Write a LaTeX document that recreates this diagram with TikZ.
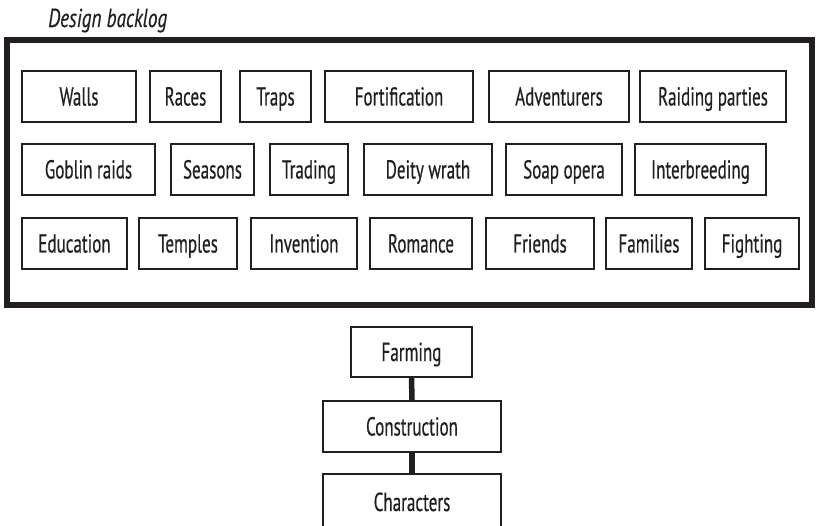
\documentclass[tikz,border=0pt]{standalone}
\usepackage{fontspec}
\setmainfont{PT Sans}[FakeStretch=0.655, FakeBold=0.5]
\newfontfamily\titlefont{PT Sans}[FakeStretch=0.74, FakeBold=0.4]
\definecolor{ink}{HTML}{231F20}
\begin{document}
\begin{tikzpicture}[x=1pt,y=-1pt,
  bx/.style={draw=ink, line width=2.2pt, rectangle, inner sep=0pt, text=ink,
    font=\fontsize{26}{26}\selectfont, text height=18pt, text depth=0pt, minimum height=51pt},
  link/.style={draw=ink, line width=5.5pt}]
\useasboundingbox (0,0) rectangle (816,526);
\clip (0,0) rectangle (816,526);
\node[anchor=base west, inner sep=0pt, text=ink, font=\titlefont\fontsize{26}{26}\selectfont\itshape] (title) at (48,27) {Design backlog};
\draw[ink, line width=6pt] (7,40) rectangle (812,305);
% row 1
\node[bx, minimum width=114pt] (walls) at (79,96.5) {Walls};
\node[bx, minimum width=71pt] (races) at (185.5,96.5) {Races};
\node[bx, minimum width=71pt] (traps) at (275.5,96.5) {Traps};
\node[bx, minimum width=148pt] (fort) at (399,96.5) {Fortification};
\node[bx, minimum width=140pt] (adv) at (559,96.5) {Adventurers};
\node[bx, minimum width=146pt] (raid) at (713,96.5) {Raiding parties};
% row 2
\node[bx, minimum width=133pt] (goblin) at (88.5,169.5) {Goblin raids};
\node[bx, minimum width=83pt] (seasons) at (212.5,169.5) {Seasons};
\node[bx, minimum width=78pt] (trading) at (309,169.5) {Trading};
\node[bx, minimum width=128pt] (deity) at (428,169.5) {Deity wrath};
\node[bx, minimum width=116pt] (soap) at (564,169.5) {Soap opera};
\node[bx, minimum width=131pt] (inter) at (700.5,169.5) {Interbreeding};
% row 3
\node[bx, minimum width=105pt] (edu) at (74.5,243.5) {Education};
\node[bx, minimum width=98pt] (temples) at (188,243.5) {Temples};
\node[bx, minimum width=106pt] (invention) at (304,243.5) {Invention};
\node[bx, minimum width=102pt] (romance) at (421,243.5) {Romance};
\node[bx, minimum width=108pt] (friends) at (540,243.5) {Friends};
\node[bx, minimum width=86pt] (families) at (649,243.5) {Families};
\node[bx, minimum width=94pt] (fighting) at (752,243.5) {Fighting};
% chain
\node[bx, minimum width=121pt, minimum height=50pt] (farming) at (411.5,352) {Farming};
\node[bx, minimum width=178pt] (construction) at (412,426.5) {Construction};
\node[bx, minimum width=178pt, minimum height=56pt] (characters) at (412,502) {Characters};
\draw[link] (farming.south) -- (construction.north);
\draw[link] (construction.south) -- (characters.north);
\end{tikzpicture}
\end{document}
